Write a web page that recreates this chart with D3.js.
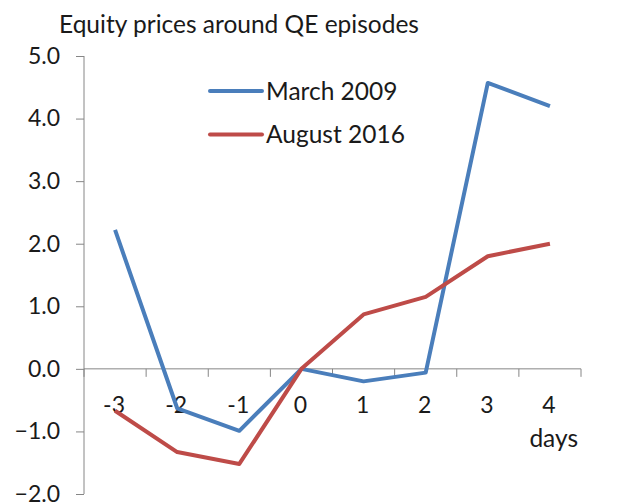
<!DOCTYPE html>
<html><head><meta charset="utf-8">
<script src="https://cdn.jsdelivr.net/npm/d3@7"></script>
<style>body{margin:0;background:#fff}svg{display:block}text{font-family:Lato,"Open Sans",sans-serif;fill:#1a1a1a}</style>
</head><body><svg id="c" width="622" height="504"></svg>
<script>
const days = ["-3","-2","-1","0","1","2","3","4"];
const march2009 = [2.22,-0.63,-0.99,0.0,-0.2,-0.06,4.57,4.2];
const august2016 = [-0.67,-1.33,-1.52,0.0,0.87,1.15,1.8,2.0];
const yTicks = [-2,-1,0,1,2,3,4,5];
const seriesNames = ["March 2009","August 2016"];
const colors = ["#4a7ebb","#be4b48"];

const FS = "23px", FL = "24.5px";
const svg = d3.select("#c");
const x = d3.scaleBand().domain(days).range([84,581]);
const y = d3.scaleLinear().domain([-2,5]).range([494,56]);
const axisColor = "#868686";

// y axis
const ya = svg.append("g").attr("transform","translate(84,0)")
  .call(d3.axisLeft(y).tickValues(yTicks).tickSize(8).tickPadding(6).tickFormat(d3.format(".1f")));
ya.select(".domain").attr("stroke",axisColor).attr("d","M0,"+y(-2)+"V"+y(5));
ya.selectAll(".tick line").attr("stroke",axisColor);
ya.selectAll(".tick text").attr("x",-24).style("font-size",FS).style("font-family","Lato,'Open Sans',sans-serif").attr("fill","#1a1a1a");

// x axis at y=0
const xa = svg.append("g").attr("transform","translate(0,"+y(0)+")");
xa.append("line").attr("x1",84).attr("x2",581).attr("y1",0).attr("y2",0).attr("stroke",axisColor);
const bounds = days.map(d=>x(d)+x.bandwidth()).concat([x(days[0])]);
xa.selectAll("line.t").data(bounds).join("line").attr("class","t")
  .attr("x1",d=>d).attr("x2",d=>d).attr("y1",0).attr("y2",8).attr("stroke",axisColor);
xa.selectAll("text").data(days).join("text")
  .attr("x",d=>x(d)+x.bandwidth()/2-1).attr("y",36)
  .attr("dy","0.35em").attr("text-anchor","middle").style("font-size",FS).text(d=>d);

// lines
const line = d3.line().x((d,i)=>x(days[i])+x.bandwidth()/2).y(d=>y(d));
[march2009,august2016].forEach((s,k)=>{
  svg.append("path").datum(s).attr("d",line).attr("fill","none")
    .attr("stroke",colors[k]).attr("stroke-width",4).attr("stroke-linejoin","round");
});

// legend
seriesNames.forEach((n,k)=>{
  const ly = 91 + k*43.5;
  svg.append("line").attr("x1",210).attr("x2",262).attr("y1",ly).attr("y2",ly)
    .attr("stroke",colors[k]).attr("stroke-width",4).attr("stroke-linecap","round");
  svg.append("text").attr("x",266).attr("y",ly).attr("dy","0.35em").style("font-size",FL).text(n);
});

// title
svg.append("text").attr("x",59).attr("y",33).style("font-size",FL).text("Equity prices around QE episodes");
// days label
svg.append("text").attr("x",578).attr("y",438).attr("dy","0.35em").attr("text-anchor","end").style("font-size",FL).text("days");
</script></body></html>
